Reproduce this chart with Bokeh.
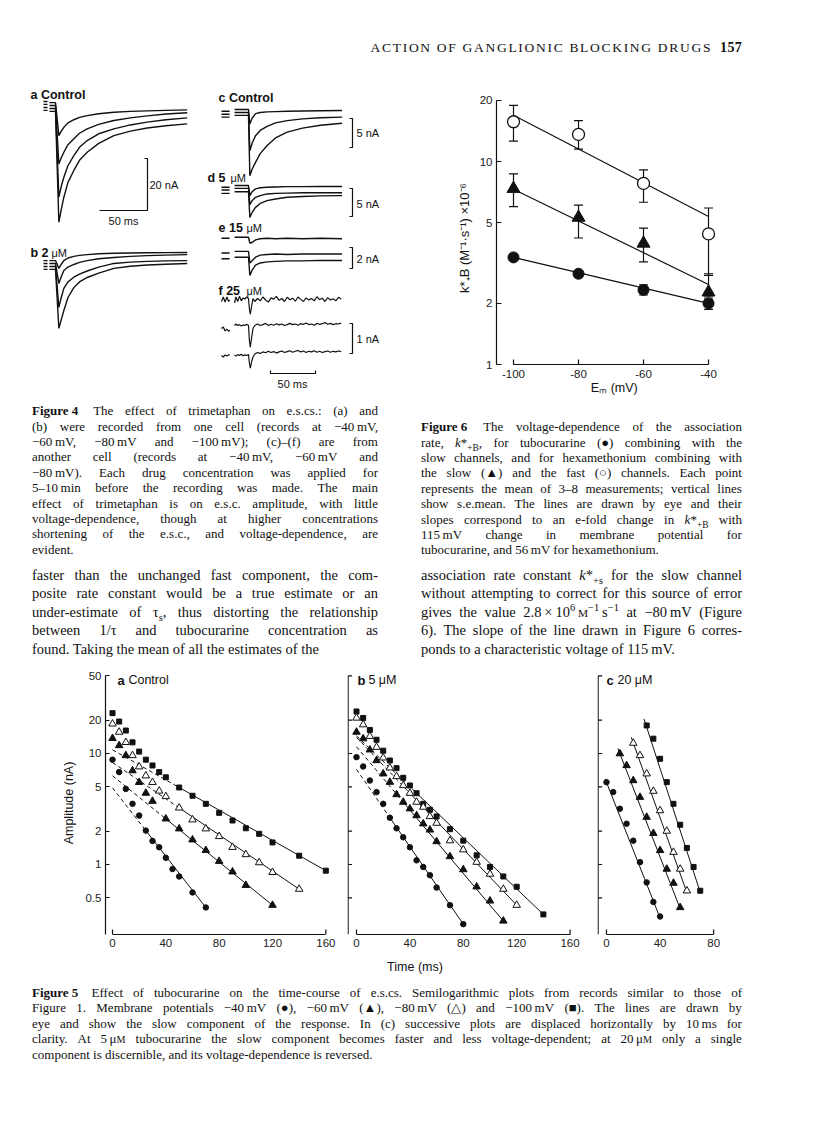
from bokeh.plotting import figure
from bokeh.models import (Range1d, FixedTicker, Div, Spacer, Whisker, TeeHead,
                          ColumnDataSource, CustomJSTickFormatter)
from bokeh.layouts import row, column
from bokeh.embed import file_html
from bokeh.resources import INLINE
from bokeh.core.properties import value

NaN = float("nan")

# ============================ DATA ============================
# ---- Figure 4: e.s.c. records (time ms, current nA) ----
F4_LEFT_T = [-12.5, -8.3, NaN, -6.3, 0, 3.5, 6, 8.7, 13, 19.1, 25, 33, 45, 60.8, 78, 95.5, 115, 137.2]
F4A_40 = [-0.4, -0.4, NaN, -0.8, -0.8, -13.5, -11.8, -10.3, -8.6, -7.4, -6.5, -5.8, -5.1, -4.5, -4.2, -4.0, -3.8, -3.6]
F4A_60 = [-1.5, -1.5, NaN, -1.9, -1.9, -24.4, -22.0, -19.9, -17.0, -14.7, -12.6, -10.9, -9.2, -7.7, -6.7, -5.9, -5.2, -4.7]
F4A_80 = [-2.7, -2.7, NaN, -3.1, -3.1, -37.2, -33.0, -29.5, -25.0, -21.2, -18.0, -15.4, -12.8, -10.9, -9.4, -8.3, -7.4, -6.7]
F4A_100 = [-3.8, -3.8, NaN, -4.2, -4.2, -46.8, -42.0, -37.2, -31.5, -26.9, -23.0, -19.9, -16.5, -13.5, -11.8, -10.6, -9.7, -9.0]
F4B_40 = [-5.8, -5.8, NaN, -5.8, -5.8, -8.8, -7.2, -5.8, -4.8, -4.2, -3.8, -3.5, -3.2, -3.0, -2.9, -2.8, -2.75, -2.7]
F4B_60 = [-6.9, -6.9, NaN, -6.9, -6.9, -14.6, -12.0, -9.6, -8.3, -7.3, -6.5, -5.8, -5.1, -4.6, -4.2, -3.9, -3.7, -3.5]
F4B_80 = [-8.1, -8.1, NaN, -8.1, -8.1, -23.8, -20.0, -16.5, -14.0, -12.2, -11.0, -9.8, -8.3, -6.9, -6.4, -6.1, -5.9, -5.8]
F4B_100 = [-9.2, -9.2, NaN, -9.2, -9.2, -31.9, -28.5, -25.0, -20.0, -16.2, -14.0, -12.3, -10.6, -8.8, -8.0, -7.5, -7.2, -6.9]

F4_RIGHT_T = [-30, -21, NaN, -15.5, 0, 1.5, 4, 7.8, 13, 20.7, 30, 43, 60, 80, 104]
F4C_40 = [-1.0, -1.0, NaN, -0.7, -0.7, -3.2, -2.2, -1.4, -1.2, -1.1, -1.05, -1.0, -0.95, -0.9, -0.86]
F4C_60 = [-1.5, -1.5, NaN, -1.2, -1.2, -7.8, -6.5, -5.2, -4.3, -3.6, -3.0, -2.6, -2.3, -2.1, -2.0]
F4C_80 = [-2.0, -2.0, NaN, -1.7, -1.7, -12.1, -11.0, -9.8, -8.3, -6.9, -5.6, -4.6, -3.9, -3.4, -3.05]
F4D_40 = [-1.2, -1.2, NaN, -0.9, -0.9, -2.7, -2.0, -1.5, -1.3, -1.2, -1.15, -1.1, -1.1, -1.08, -1.07]
F4D_60 = [-1.7, -1.7, NaN, -1.4, -1.4, -4.3, -3.6, -3.0, -2.7, -2.4, -2.3, -2.25, -2.2, -2.2, -2.2]
F4D_80 = [-2.3, -2.3, NaN, -2.0, -2.0, -6.6, -5.7, -4.8, -4.1, -3.6, -3.3, -3.0, -2.85, -2.75, -2.7]
F4E_40 = [-0.55, -0.55, NaN, -0.45, -0.45, -1.0, -0.95, -0.7, -0.6, -0.55, -0.6, -0.55, -0.6, -0.55, -0.6]
F4E_60 = [-1.95, -1.95, NaN, -1.8, -1.8, -2.9, -2.7, -2.35, -2.15, -2.1, -2.05, -2.1, -2.05, -2.05, -2.05]
F4E_80 = [-2.5, -2.5, NaN, -2.35, -2.35, -4.1, -3.6, -3.1, -2.9, -2.8, -2.75, -2.7, -2.7, -2.65, -2.67]

F4F_T = [-30, -28, -26, -24, -22, -21, NaN, -15.5, -14, -12, -10, -8, -6, -4, -2, 0,
         1, 2, 3.5, 5, 7,
         10, 13, 16, 19, 22, 25, 28, 31, 34, 37, 40, 43, 46, 49, 52, 55,
         58, 61, 64, 67, 70, 73, 76, 79, 82, 85, 88, 91, 94, 97, 100, 103]
F4F_40 = [-0.2, -0.05, -0.22, -0.05, -0.2, -0.15, NaN, -0.25, -0.05, -0.2, -0.02, -0.18, -0.08, -0.12, -0.05, -0.1,
          -0.45, -0.62, -0.35, -0.1, -0.2,
          -0.1, -0.18, -0.05, -0.15, -0.22, -0.08, -0.12, -0.03, -0.16, -0.1, -0.2, -0.06, -0.14, -0.09, -0.19, -0.05,
          -0.13, -0.2, -0.08, -0.15, -0.1, -0.18, -0.04, -0.14, -0.09, -0.2, -0.07, -0.15, -0.11, -0.18, -0.06, -0.12]
F4F_60 = [-1.1, -1.05, -1.18, -1.12, -1.2, -1.15, NaN, -1.0, -0.95, -1.0, -0.97, -1.02, -0.98, -1.0, -0.96, -1.0,
          -1.5, -1.72, -1.4, -1.1, -1.0,
          -0.95, -1.0, -0.97, -0.93, -1.0, -0.96, -0.99, -0.94, -0.98, -0.95, -1.0, -0.97, -0.93, -0.97, -0.95, -0.99,
          -0.94, -0.96, -0.92, -0.97, -0.95, -0.99, -0.93, -0.96, -0.94, -0.9, -0.96, -0.93, -0.97, -0.94, -0.95, -0.92]
F4F_80 = [-2.0, -2.05, -1.98, -2.02, -1.97, -2.0, NaN, -1.98, -2.02, -1.97, -2.0, -1.96, -2.01, -1.98, -2.0, -1.97,
          -2.25, -2.42, -2.2, -2.05, -1.95,
          -1.9, -1.93, -1.88, -1.91, -1.86, -1.9, -1.87, -1.92, -1.88, -1.85, -1.9, -1.87, -1.84, -1.89, -1.86, -1.83,
          -1.88, -1.85, -1.9, -1.86, -1.88, -1.84, -1.89, -1.86, -1.9, -1.87, -1.85, -1.89, -1.86, -1.88, -1.85, -1.87]

F4_SCALE_A_MS, F4_SCALE_A_NA = 50, 20
F4_SCALE_C_NA, F4_SCALE_D_NA, F4_SCALE_E_NA, F4_SCALE_F_NA = 5, 5, 2, 1
F4_SCALE_RIGHT_MS = 50

# ---- Figure 6: k*+B (x10^6 M-1 s-1) vs membrane potential ----
F6_EM = [-100, -80, -60, -40]
F6_HEX_FAST = [15.7, 13.6, 7.8, 4.4]
F6_HEX_FAST_UP = [18.9, 15.9, 9.1, 5.9]
F6_HEX_FAST_LO = [12.6, 11.5, 6.3, 2.75]
F6_HEX_SLOW = [7.35, 5.3, 3.95, 2.27]
F6_HEX_SLOW_UP = [8.7, 6.1, 4.7, 2.8]
F6_HEX_SLOW_LO = [6.0, 4.2, 3.2, 2.15]
F6_TC = [3.37, 2.8, 2.33, 2.0]
F6_TC_UP = [3.45, 2.9, 2.47, 2.1]
F6_TC_LO = [3.3, 2.7, 2.2, 1.87]
F6_LINE_EM = [-100, -40]
F6_HEX_FAST_LINE = [16.9, 5.36]
F6_HEX_SLOW_LINE = [7.3, 2.48]
F6_TC_LINE = [3.37, 2.0]
F6_YTICKS = [1, 2, 5, 10, 20]
F6_XTICKS = [-100, -80, -60, -40]
F6_XLABELS = ["-100", "-80", "-60", "-40"]

# ---- Figure 5: amplitude (nA) vs time (ms) ----
A_T_SQ = [0, 5, 10, 15, 20, 25, 30, 35, 40, 50, 60, 70, 80, 90, 100, 110, 120, 140, 160]
A_V_SQ = [23.1, 19.4, 16.1, 12.6, 10.4, 8.8, 7.8, 6.8, 6.1, 4.94, 4.16, 3.52, 2.92, 2.49, 2.12, 1.89, 1.58, 1.20, 0.88]
A_T_OT = [0, 5, 10, 15, 20, 25, 30, 35, 40, 50, 60, 70, 80, 90, 100, 110, 120, 140]
A_V_OT = [18.5, 15.6, 12.6, 9.6, 7.6, 6.3, 5.5, 4.6, 4.1, 3.24, 2.53, 2.10, 1.79, 1.43, 1.23, 1.04, 0.85, 0.60]
A_T_FT = [0, 5, 10, 15, 20, 25, 30, 40, 50, 60, 70, 80, 90, 100, 120]
A_V_FT = [13.7, 11.8, 9.6, 7.0, 5.5, 4.4, 3.72, 2.58, 2.10, 1.67, 1.34, 1.07, 0.86, 0.65, 0.43]
A_T_FC = [0, 5, 10, 15, 20, 25, 30, 35, 40, 45, 50, 60, 70]
A_V_FC = [8.8, 6.8, 4.8, 3.52, 2.76, 2.02, 1.63, 1.43, 1.15, 0.91, 0.78, 0.56, 0.41]
A_FIT_T_SQ, A_FIT_V_SQ = [0, 50, 160], [10.8, 4.94, 0.88]
A_FIT_T_OT, A_FIT_V_OT = [0, 50, 140], [8.3, 3.24, 0.60]
A_FIT_T_FT, A_FIT_V_FT = [0, 40, 120], [6.3, 2.58, 0.43]
A_FIT_T_FC, A_FIT_V_FC = [0, 25, 70], [4.9, 2.02, 0.41]

B_T_SQ = [0, 5, 10, 15, 20, 25, 30, 35, 40, 45, 50, 55, 60, 70, 80, 90, 100, 110, 120, 140]
B_V_SQ = [23.9, 20.9, 16.3, 13.3, 10.6, 8.65, 7.38, 6.04, 5.15, 4.39, 3.52, 3.11, 2.71, 2.08, 1.64, 1.21, 0.95, 0.78, 0.63, 0.355]
B_T_OT = [0, 5, 10, 15, 20, 25, 30, 35, 40, 45, 50, 55, 60, 70, 80, 90, 100, 110, 120]
B_V_OT = [20.9, 18.2, 14.3, 11.4, 9.14, 7.43, 6.21, 5.15, 4.39, 3.65, 3.29, 2.71, 2.36, 1.64, 1.36, 1.05, 0.82, 0.60, 0.43]
B_T_FT = [0, 5, 10, 15, 20, 25, 30, 35, 40, 45, 50, 55, 60, 70, 80, 90, 100, 110]
B_V_FT = [15.6, 13.6, 10.8, 8.65, 6.57, 5.52, 4.27, 3.65, 3.18, 2.76, 2.33, 2.05, 1.61, 1.18, 0.90, 0.63, 0.47, 0.31]
B_T_FC = [0, 5, 10, 15, 20, 25, 30, 35, 40, 45, 50, 55, 60, 70, 80]
B_V_FC = [9.27, 7.64, 5.71, 4.49, 3.52, 2.64, 2.12, 1.76, 1.43, 1.09, 0.95, 0.80, 0.62, 0.43, 0.29]
B_FIT_T_SQ, B_FIT_V_SQ = [0, 45, 140], [14.4, 4.39, 0.355]
B_FIT_T_OT, B_FIT_V_OT = [0, 40, 120], [14.0, 4.39, 0.43]
B_FIT_T_FT, B_FIT_V_FT = [0, 35, 110], [11.5, 3.65, 0.31]
B_FIT_T_FC, B_FIT_V_FC = [0, 25, 80], [7.2, 2.64, 0.29]

C_T_FC = [0, 5, 10, 15, 20, 25, 30, 35, 40]
C_V_FC = [5.52, 4.49, 3.18, 2.33, 1.64, 1.05, 0.69, 0.46, 0.34]
C_T_FT = [10, 15, 20, 25, 30, 35, 40, 45, 50, 55]
C_V_FT = [9.97, 7.8, 5.71, 4.04, 2.67, 1.91, 1.34, 0.91, 0.68, 0.41]
C_T_OT = [20, 25, 30, 35, 40, 45, 50, 55, 60]
C_V_OT = [12.4, 9.6, 6.57, 4.58, 3.06, 2.0, 1.29, 0.91, 0.58]
C_T_SQ = [30, 35, 40, 45, 50, 55, 60, 65, 70]
C_V_SQ = [17.9, 13.6, 8.96, 5.52, 3.52, 2.28, 1.41, 0.95, 0.58]
C_FIT_T_FC, C_FIT_V_FC = [-1, 40], [5.9, 0.33]
C_FIT_T_FT, C_FIT_V_FT = [8.5, 55], [11.1, 0.40]
C_FIT_T_OT, C_FIT_V_OT = [18.5, 60], [14.0, 0.56]
C_FIT_T_SQ, C_FIT_V_SQ = [28, 70], [20.5, 0.56]

F5_YTICKS = [0.5, 1, 2, 5, 10, 20, 50]
F5_XTICKS_AB = [0, 40, 80, 120, 160]
F5_XTICKS_C = [0, 40, 80]

# ---- Texts ----
HEADER = "ACTION OF GANGLIONIC BLOCKING DRUGS"
PAGE_NO = "157"
CAP4 = [
    "<b>Figure&nbsp;4</b>&nbsp; The effect of trimetaphan on e.s.cs.: (a) and",
    "(b) were recorded from one cell (records at −40&thinsp;mV,",
    "−60&thinsp;mV, −80&thinsp;mV and −100&thinsp;mV); (c)–(f) are from",
    "another cell (records at −40&thinsp;mV, −60&thinsp;mV and",
    "−80&thinsp;mV). Each drug concentration was applied for",
    "5–10&thinsp;min before the recording was made. The main",
    "effect of trimetaphan is on e.s.c. amplitude, with little",
    "voltage-dependence, though at higher concentrations",
    "shortening of the e.s.c., and voltage-dependence, are",
    "evident.",
]
CAP6 = [
    "<b>Figure&nbsp;6</b>&nbsp; The voltage-dependence of the association",
    "rate, <i>k</i>*<sub>+B</sub>, for tubocurarine (●) combining with the",
    "slow channels, and for hexamethonium combining with",
    "the slow (▲) and the fast (○) channels. Each point",
    "represents the mean of 3–8 measurements; vertical lines",
    "show s.e.mean. The lines are drawn by eye and their",
    "slopes correspond to an e-fold change in <i>k</i>*<sub>+B</sub> with",
    "115&thinsp;mV change in membrane potential for",
    "tubocurarine, and 56&thinsp;mV for hexamethonium.",
]
BODY_L = [
    "faster than the unchanged fast component, the com-",
    "posite rate constant would be a true estimate or an",
    "under-estimate of τ<sub>s</sub>, thus distorting the relationship",
    "between 1/τ and tubocurarine concentration as",
    "found. Taking the mean of all the estimates of the",
]
BODY_R = [
    "association rate constant <i>k</i>*<sub>+s</sub> for the slow channel",
    "without attempting to correct for this source of error",
    "gives the value 2.8&thinsp;×&thinsp;10<sup>6</sup>&thinsp;<small>M</small><sup>−1</sup>&thinsp;s<sup>−1</sup> at −80&thinsp;mV (Figure",
    "6). The slope of the line drawn in Figure 6 corres-",
    "ponds to a characteristic voltage of 115&thinsp;mV.",
]
CAP5 = [
    "<b>Figure&nbsp;5</b>&nbsp; Effect of tubocurarine on the time-course of e.s.cs. Semilogarithmic plots from records similar to those of",
    "Figure 1. Membrane potentials −40&thinsp;mV (●), −60&thinsp;mV (▲), −80&thinsp;mV (△) and −100&thinsp;mV (■). The lines are drawn by",
    "eye and show the slow component of the response. In (c) successive plots are displaced horizontally by 10&thinsp;ms for",
    "clarity. At 5&thinsp;μ<small>M</small> tubocurarine the slow component becomes faster and less voltage-dependent; at 20&thinsp;μ<small>M</small> only a single",
    "component is discernible, and its voltage-dependence is reversed.",
]

# ============================ STYLE / LAYOUT ============================
SANS = "Liberation Sans"
INK = "#111111"
SERIF = "'Liberation Serif', 'Times New Roman', serif"

# ---------- Figure 4 (one canvas in page pixels; each panel its own ms / nA ranges) ----------
F4_X0, F4_X1, F4_Y0, F4_Y1 = 8, 388, 80, 395
# panel: (page x of t=0, px per ms, page y of I=0, px per nA)
P4 = {
    "a": (55, 0.96, 100, 2.6),
    "b": (55, 0.96, 245, 2.6),
    "c": (248, 0.9, 105, 5.8),
    "d": (248, 0.9, 180, 5.6),
    "e": (248, 0.9, 232, 10.5),
    "f": (248, 0.9, 295, 30.0),
}

def tp(name, X, Y):
    X0, kx, Y0, ky = P4[name]
    return (X - X0) / kx, -(Y - Y0) / ky

f4 = figure(width=F4_X1 - F4_X0, height=F4_Y1 - F4_Y0,
            x_range=Range1d(F4_X0, F4_X1), y_range=Range1d(F4_Y1, F4_Y0),
            x_axis_location=None, y_axis_location=None,
            toolbar_location=None, output_backend="svg", min_border=0)
f4.outline_line_color = None
f4.xgrid.visible = False
f4.ygrid.visible = False
xr, yr = {}, {}
for k, (X0, kx, Y0, ky) in P4.items():
    xr[k] = Range1d((F4_X0 - X0) / kx, (F4_X1 - X0) / kx)
    yr[k] = Range1d(-(F4_Y1 - Y0) / ky, (Y0 - F4_Y0) / ky)
f4.extra_x_ranges = xr
f4.extra_y_ranges = yr

def trace(name, t, i, lw=1.4):
    f4.line(t, i, x_range_name=name, y_range_name=name, line_color=INK, line_width=lw)

for tr in (F4A_40, F4A_60, F4A_80, F4A_100):
    trace("a", F4_LEFT_T, tr)
for tr in (F4B_40, F4B_60, F4B_80, F4B_100):
    trace("b", F4_LEFT_T, tr)
for tr in (F4C_40, F4C_60, F4C_80):
    trace("c", F4_RIGHT_T, tr)
for tr in (F4D_40, F4D_60, F4D_80):
    trace("d", F4_RIGHT_T, tr)
for tr in (F4E_40, F4E_60, F4E_80):
    trace("e", F4_RIGHT_T, tr)
for tr in (F4F_40, F4F_60, F4F_80):
    trace("f", F4F_T, tr, lw=1.2)

# scale bars
ta, ia = tp("a", 147, 210)
sx = 3 / P4["a"][1]
trace("a", [ta - F4_SCALE_A_MS, ta, ta, ta - sx], [ia, ia, ia + F4_SCALE_A_NA, ia + F4_SCALE_A_NA], lw=1.2)
for name, ytop, nA in (("c", 118, F4_SCALE_C_NA), ("d", 188, F4_SCALE_D_NA),
                       ("e", 247, F4_SCALE_E_NA), ("f", 323, F4_SCALE_F_NA)):
    tb, ib = tp(name, 352, ytop)
    s = 3 / P4[name][1]
    trace(name, [tb - s, tb, tb, tb - s], [ib, ib, ib - nA, ib - nA], lw=1.2)
tb, ib = tp("f", 270, 373)
up = 3 / P4["f"][3]
trace("f", [tb, tb, tb + F4_SCALE_RIGHT_MS, tb + F4_SCALE_RIGHT_MS], [ib + up, ib, ib, ib + up], lw=1.2)

F4_TEXT = [
    ("a Control", 30, 94, "bold", "left"), ("b 2", 30, 252, "bold", "left"), ("μM", 51, 252, "normal", "left"),
    ("20 nA", 149, 184, "normal", "left"), ("50 ms", 123, 220, "normal", "center"),
    ("c Control", 218, 97, "bold", "left"), ("5 nA", 356, 132, "normal", "left"),
    ("d 5", 207, 177, "bold", "left"), ("μM", 230, 177, "normal", "left"), ("5 nA", 356, 203, "normal", "left"),
    ("e 15", 218, 227, "bold", "left"), ("μM", 246, 227, "normal", "left"), ("2 nA", 356, 258, "normal", "left"),
    ("f 25", 218, 290, "bold", "left"), ("μM", 246, 290, "normal", "left"), ("1 nA", 356, 338, "normal", "left"),
    ("50 ms", 292, 383, "normal", "center"),
]
for txt, X, Y, st, al in F4_TEXT:
    f4.text(x=[X], y=[Y], text=[txt], text_font=value(SANS), text_font_style=st,
            text_font_size="12.5px" if st == "bold" else "11px", text_color=INK,
            text_align=al, text_baseline="middle")

# ---------- Figure 6 (frame spans the full figure height so it lines up with Figure 4) ----------
F6_PX_DECADE, F6_Y_ONE = 203.0, 364.0      # pixels per decade, page y of k = 1

def k6(Y):
    return 10 ** ((F6_Y_ONE - Y) / F6_PX_DECADE)

f6 = figure(width=322, height=F4_Y1 - F4_Y0, y_axis_type="log",
            x_range=Range1d(-105.23, -35.7), y_range=Range1d(k6(F4_Y1), k6(F4_Y0)),
            x_axis_location=None, toolbar_location=None, output_backend="svg",
            min_border_left=76, min_border_right=20, min_border_top=0, min_border_bottom=0)
f6.outline_line_color = None
f6.xgrid.visible = False
f6.ygrid.visible = False

def style_axis(a, fs="11.5px"):
    a.axis_line_color = INK
    a.axis_line_width = 1.2
    a.major_tick_line_color = INK
    a.major_tick_line_width = 1.2
    a.major_tick_in = 5
    a.major_tick_out = 0
    a.minor_tick_line_color = None
    a.major_label_text_font = SANS
    a.major_label_text_font_size = fs
    a.major_label_text_color = "#222222"
    a.axis_label_text_font = SANS
    a.axis_label_text_font_style = "normal"
    a.axis_label_text_font_size = "12.5px"
    a.axis_label_text_color = INK

fmt = CustomJSTickFormatter(code="return String(tick);")
ay6 = f6.yaxis[0]
style_axis(ay6)
ay6.ticker = FixedTicker(ticks=F6_YTICKS, minor_ticks=[])
ay6.formatter = fmt
ay6.bounds = (F6_YTICKS[0], F6_YTICKS[-1])
ay6.major_label_standoff = 4
ay6.axis_label = "k*₊B (M⁻¹·s⁻¹) ×10⁻⁶"
ay6.axis_label_standoff = 5
ay6.axis_label_text_font_size = "13px"

# x axis of Figure 6 (range-frame style, drawn along k = 1)
base = F6_YTICKS[0]
f6.line([F6_XTICKS[0], F6_XTICKS[-1]], [base, base], line_color=INK, line_width=1.2)
f6.segment(x0=F6_XTICKS, y0=[base] * len(F6_XTICKS), x1=F6_XTICKS, y1=[k6(F6_Y_ONE - 5)] * len(F6_XTICKS),
           line_color=INK, line_width=1.2)
f6.text(x=F6_XTICKS, y=[k6(373)] * len(F6_XTICKS), text=F6_XLABELS, text_font=value(SANS),
        text_font_size="11.5px", text_color="#222222", text_align="center", text_baseline="middle")
f6.text(x=[-69], y=[k6(387)], text=["Eₘ (mV)"], text_font=value(SANS),
        text_font_size="12.5px", text_color=INK, text_align="center", text_baseline="middle")

for ln in (F6_HEX_FAST_LINE, F6_HEX_SLOW_LINE, F6_TC_LINE):
    f6.line(F6_LINE_EM, ln, line_color=INK, line_width=1.2)
for mean, up_, lo_ in ((F6_HEX_FAST, F6_HEX_FAST_UP, F6_HEX_FAST_LO),
                       (F6_HEX_SLOW, F6_HEX_SLOW_UP, F6_HEX_SLOW_LO),
                       (F6_TC, F6_TC_UP, F6_TC_LO)):
    src = ColumnDataSource(dict(x=F6_EM, up=up_, lo=lo_))
    f6.add_layout(Whisker(source=src, base="x", upper="up", lower="lo",
                          line_color=INK, line_width=1.2,
                          upper_head=TeeHead(size=9, line_color=INK, line_width=1.2),
                          lower_head=TeeHead(size=9, line_color=INK, line_width=1.2)))
f6.scatter(F6_EM, F6_HEX_FAST, marker="circle", size=12, fill_color="white", line_color=INK, line_width=1.3)
f6.scatter(F6_EM, F6_HEX_SLOW, marker="triangle", size=13, fill_color=INK, line_color=INK)
f6.scatter(F6_EM, F6_TC, marker="circle", size=11, fill_color=INK, line_color=INK)

# ---------- Figure 5 ----------
F5_H, F5_TOP, F5_BOT = 295, 11, 21
F5_YR = (0.234, 54.8)
F5_PX_DECADE = 111.0

def panel(width, left, xrng, xb, xticks, kx, with_axis):
    p = figure(width=width, height=F5_H, y_axis_type="log",
               x_range=Range1d(*xrng), y_range=Range1d(*F5_YR),
               y_axis_location="left" if with_axis else None,
               toolbar_location=None, output_backend="svg",
               min_border_left=left, min_border_right=0,
               min_border_top=F5_TOP, min_border_bottom=F5_BOT)
    p.outline_line_color = None
    p.xgrid.visible = False
    p.ygrid.visible = False
    ax = p.xaxis[0]
    style_axis(ax)
    ax.major_tick_in = 0
    ax.ticker = FixedTicker(ticks=xticks, minor_ticks=[])
    ax.formatter = fmt
    ax.bounds = xb
    ax.major_label_standoff = 4
    # up-turned ends of the time axis
    yb = F5_YR[0]
    p.segment(x0=list(xb), y0=[yb, yb], x1=list(xb), y1=[yb * 10 ** (5 / F5_PX_DECADE)] * 2,
              line_color=INK, line_width=1.2)
    if with_axis:
        ay = p.yaxis[0]
        style_axis(ay)
        ay.major_tick_in = 4
        ay.ticker = FixedTicker(ticks=F5_YTICKS, minor_ticks=[])
        ay.formatter = fmt
        ay.bounds = (F5_YR[0], F5_YTICKS[-1])
        ay.major_label_standoff = 4
        ay.axis_label = "Amplitude (nA)"
        ay.axis_label_standoff = 7
    else:
        # unlabelled amplitude axis (same ticks, no numbers)
        x_ax = xrng[0] + 0.6 / kx
        p.line([x_ax, x_ax], [F5_YR[0], F5_YTICKS[-1]], line_color=INK, line_width=1.2)
        n = len(F5_YTICKS)
        p.segment(x0=[x_ax] * n, y0=F5_YTICKS, x1=[x_ax + 4 / kx] * n, y1=F5_YTICKS,
                  line_color=INK, line_width=1.2)
    return p

def series(p, t, v, kind):
    if kind == "FC":
        p.scatter(t, v, marker="circle", size=5.5, fill_color=INK, line_color=INK)
    elif kind == "FT":
        p.scatter(t, v, marker="triangle", size=7.5, fill_color=INK, line_color=INK)
    elif kind == "OT":
        p.scatter(t, v, marker="triangle", size=7.5, fill_color="white", line_color=INK, line_width=1)
    else:
        p.scatter(t, v, marker="square", size=5, fill_color=INK, line_color=INK)

def fit(p, t, v):
    if len(t) == 3:
        p.line(t[:2], v[:2], line_color=INK, line_width=1, line_dash="4 3")
        p.line(t[1:], v[1:], line_color=INK, line_width=1)
    else:
        p.line(t, v, line_color=INK, line_width=1)

def tag(p, x0, letter, rest):
    yv = 45.5
    p.text(x=[x0], y=[yv], text=[letter], text_font=value(SANS), text_font_style="bold",
           text_font_size="13px", text_color=INK, text_baseline="middle")
    p.text(x=[x0 + 8.2], y=[yv], text=[rest], text_font=value(SANS),
           text_font_size="12.5px", text_color=INK, text_baseline="middle")

pa = panel(332, 97, (-5.25, 171), (0, 160), F5_XTICKS_AB, 1.333, True)
pb = panel(250, 7, (-6.74, 175.3), (0, 160), F5_XTICKS_AB, 1.335, False)
pc = panel(145, 7, (-6.7, 96.3), (0, 80), F5_XTICKS_C, 1.34, False)

for p, fits, ser in (
    (pa, [(A_FIT_T_SQ, A_FIT_V_SQ), (A_FIT_T_OT, A_FIT_V_OT), (A_FIT_T_FT, A_FIT_V_FT), (A_FIT_T_FC, A_FIT_V_FC)],
     [(A_T_SQ, A_V_SQ, "SQ"), (A_T_OT, A_V_OT, "OT"), (A_T_FT, A_V_FT, "FT"), (A_T_FC, A_V_FC, "FC")]),
    (pb, [(B_FIT_T_SQ, B_FIT_V_SQ), (B_FIT_T_OT, B_FIT_V_OT), (B_FIT_T_FT, B_FIT_V_FT), (B_FIT_T_FC, B_FIT_V_FC)],
     [(B_T_SQ, B_V_SQ, "SQ"), (B_T_OT, B_V_OT, "OT"), (B_T_FT, B_V_FT, "FT"), (B_T_FC, B_V_FC, "FC")]),
    (pc, [(C_FIT_T_SQ, C_FIT_V_SQ), (C_FIT_T_OT, C_FIT_V_OT), (C_FIT_T_FT, C_FIT_V_FT), (C_FIT_T_FC, C_FIT_V_FC)],
     [(C_T_SQ, C_V_SQ, "SQ"), (C_T_OT, C_V_OT, "OT"), (C_T_FT, C_V_FT, "FT"), (C_T_FC, C_V_FC, "FC")]),
):
    for t, v in fits:
        fit(p, t, v)
    for t, v, k in ser:
        series(p, t, v, k)

tag(pa, 3.75, "a", "Control")
tag(pb, 0.75, "b", "5 μM")
tag(pc, 0.0, "c", "20 μM")

# ---------- Text blocks ----------
STYLE_TAG = "<style>sup,sub{line-height:0;font-size:72%;} small{font-size:78%;}</style>"

def block(lines, width, fs, lh, pad):
    out = []
    for i, ln in enumerate(lines):
        if i == len(lines) - 1:
            out.append(f'<div style="height:{lh}px;line-height:{lh}px;white-space:nowrap;">{ln}</div>')
        else:
            spans = "".join(f"<span>{w}</span>" for w in ln.split(" "))
            out.append(f'<div style="display:flex;justify-content:space-between;height:{lh}px;'
                       f'line-height:{lh}px;white-space:nowrap;">{spans}</div>')
    return (STYLE_TAG + f'<div style="font-family:{SERIF};font-size:{fs}px;color:{INK};'
            f'padding-top:{pad}px;width:{width}px;">' + "".join(out) + "</div>")

def tdiv(html, w, h):
    return Div(text=html, width=w, height=h, margin=0)

header = tdiv(
    f'<div style="font-family:{SERIF};font-size:13.5px;letter-spacing:1.7px;color:{INK};'
    f'text-align:right;padding-top:32px;line-height:15px;width:734px;">{HEADER}'
    f'<span style="display:inline-block;width:8px;"></span><b style="letter-spacing:0.3px;font-size:14px;">{PAGE_NO}</b></div>',
    734, 72)

cap_row = row(Spacer(width=24, height=167, margin=0),
              tdiv(block(CAP4, 346, 13, 15.4, 8.3), 346, 167),
              Spacer(width=43, height=167, margin=0),
              tdiv(block(CAP6, 321, 13, 15.4, 24.3), 321, 167))
body_row = row(Spacer(width=24, height=98, margin=0),
               tdiv(block(BODY_L, 346, 14.5, 18.5, 3.8), 346, 98),
               Spacer(width=43, height=98, margin=0),
               tdiv(block(BODY_R, 321, 14.5, 18.5, 3.8), 321, 98))
time_lbl = tdiv(f'<div style="font-family:{SANS};font-size:12.5px;color:{INK};margin-left:307px;'
                f'width:200px;text-align:center;padding-top:5px;line-height:15px;">Time (ms)</div>', 734, 25)
cap5_row = row(Spacer(width=24, height=90, margin=0),
               tdiv(block(CAP5, 710, 13, 15.4, 5.0), 710, 90))

page = column(
    Spacer(width=734, height=8, margin=0),
    header,
    row(f4, Spacer(width=32, height=F4_Y1 - F4_Y0, margin=0), f6),
    cap_row,
    body_row,
    row(pa, pb, pc),
    time_lbl,
    cap5_row,
)
layout = row(Spacer(width=8, height=8, margin=0), page)

with open("out.html", "w") as fh:
    fh.write(file_html(layout, INLINE, title="Action of ganglionic blocking drugs"))
